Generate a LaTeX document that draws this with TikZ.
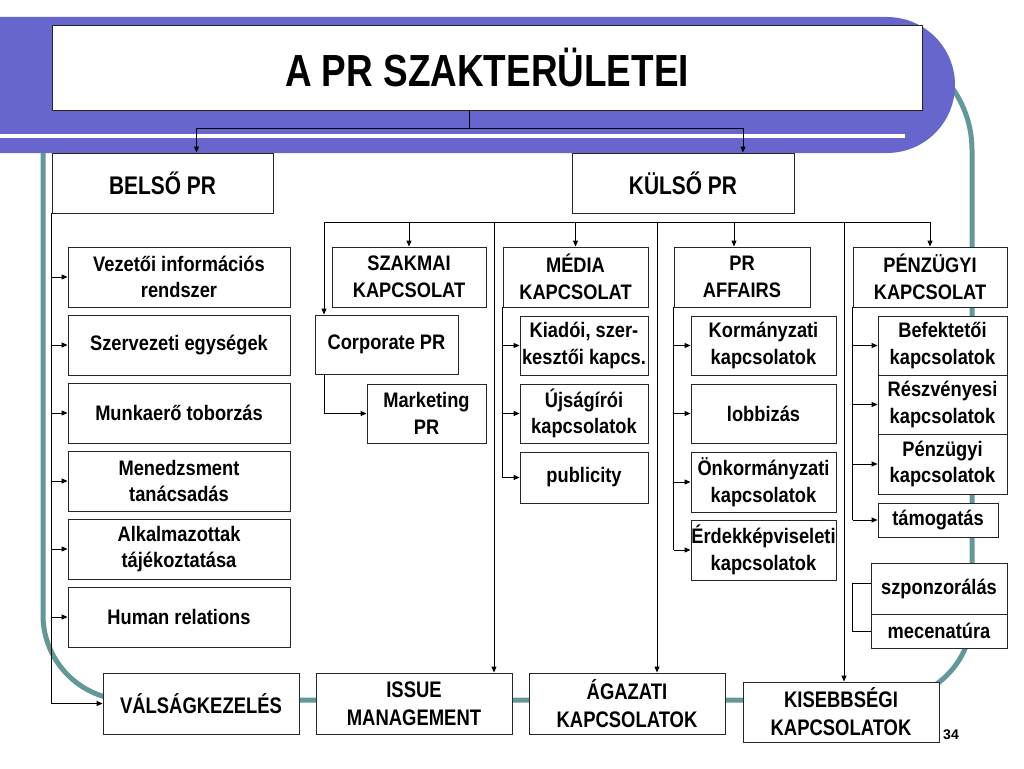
\documentclass[tikz,border=0pt]{standalone}
\usepackage{fontspec}
\setmainfont{Liberation Sans}
\newfontfamily\boxfont[FakeStretch=0.87]{Liberation Sans}
\newfontfamily\narrowfont[FakeStretch=0.82]{Liberation Sans}
\usetikzlibrary{arrows.meta}
\definecolor{bannerblue}{RGB}{102,102,204}
\definecolor{ringteal}{RGB}{98,152,152}

\begin{document}
\begin{tikzpicture}[x=1pt, y=-1pt, line width=0.9pt,
    box/.style={draw=black!85, line width=0.9pt, fill=white, inner sep=0pt, align=center,
      font=\boxfont\bfseries\fontsize{21}{26.5}\selectfont},
    headbox/.style={box, font=\narrowfont\bfseries\fontsize{25.5}{30}\selectfont},
    bigbox/.style={box, font=\narrowfont\bfseries\fontsize{22.5}{28}\selectfont},
    sz/.style 2 args={minimum width=#1, minimum height=#2},
    arr/.style={-{Triangle[length=6pt,width=5pt]}}]
    \useasboundingbox (0,0) rectangle (1024,768);

    % Teal ring behind everything
    \draw[ringteal, line width=5pt, rounded corners=85] (43,43) -- (43,700) -- (972,700) -- (972,300)
        [rounded corners=107] -- (972,43) -- (400,43);

    % Blue banner with white stripe
    \fill[bannerblue, rounded corners=68] (-100,17) rectangle (955,153);
    \fill[white] (0,134) rectangle (905,138);

    % Title and the two main branches
    \node[box, sz={870}{85}, font=\narrowfont\bfseries\fontsize{45}{50}\selectfont] (title) at (487,67.5) {A PR SZAKTERÜLETEI};
    \node[headbox, sz={221}{60}] (belso) at (162.5,183) {BELSŐ PR};
    \node[headbox, sz={222}{60}] (kulso) at (683,183) {KÜLSŐ PR};

    \draw ([xshift=-18pt]title.south) -- ++(0,18) coordinate (tj);
    \coordinate (belsoin) at ([xshift=34pt]belso.north);
    \coordinate (kulsoin) at ([xshift=60pt]kulso.north);
    \draw[arr] (tj) -| (belsoin);
    \draw[arr] (tj) -| (kulsoin);

    % Internal PR
    \foreach \i/\txt in {1/{Vezetői információs\\rendszer}, 2/{Szervezeti egységek}, 3/{Munkaerő toborzás},
        4/{Menedzsment\\tanácsadás}, 5/{Alkalmazottak\\tájékoztatása}, 6/{Human relations}}
        \node[box, sz={222}{60}] (v\i) at (179,{209+68*\i}) {\txt};
    \foreach \i in {1,...,6}
        \draw[arr] (belso.south west |- v\i.west) -- (v\i.west);

    % Bottom row
    \node[bigbox, sz={196}{61}] (valsag) at (201,703.5) {VÁLSÁGKEZELÉS};
    \node[bigbox, sz={196}{61}] (issue) at (414,703.5) {ISSUE\\MANAGEMENT};
    \node[bigbox, sz={196}{61}] (agazati) at (627,703.5) {ÁGAZATI\\KAPCSOLATOK};
    \node[bigbox, sz={196}{60}] (kisebb) at (841,712) {KISEBBSÉGI\\KAPCSOLATOK};
    \node[font=\bfseries\fontsize{14}{14}\selectfont] (page) at (951,735) {34};

    \draw[arr] (belso.south west) |- (valsag.west);

    % External PR groups
    \node[box, sz={154}{60}] (szakmai) at (409,277) {SZAKMAI\\KAPCSOLAT};
    \node[box, sz={145}{60}] (media) at (575.5,277) {MÉDIA\\KAPCSOLAT};
    \node[box, sz={136}{60}] (affairs) at (742,277) {PR\\AFFAIRS};
    \node[box, sz={154}{60}] (penz) at (930,277) {PÉNZÜGYI\\KAPCSOLAT};

    \node[box, sz={143}{59}] (corporate) at (386.5,344.5) {Corporate PR};
    \node[box, sz={119}{59}] (marketing) at (426.5,413.5) {Marketing\\PR};

    \node[box, sz={128}{59}] (kiadoi) at (584,345.5) {Kiadói, szer-\\kesztői kapcs.};
    \node[box, sz={128}{59}] (ujsag) at (584,413.5) {Újságírói\\kapcsolatok};
    \node[box, sz={128}{51}] (publicity) at (584,477.5) {publicity};

    \node[box, sz={145}{59}] (korm) at (763.5,345.5) {Kormányzati\\kapcsolatok};
    \node[box, sz={145}{59}] (lobbi) at (763.5,413.5) {lobbizás};
    \node[box, sz={145}{60}] (onkorm) at (763.5,482) {Önkormányzati\\kapcsolatok};
    \node[box, sz={145}{60}] (erdek) at (763.5,550) {Érdekképviseleti\\kapcsolatok};

    \node[box, sz={129}{59}] (befekt) at (942.5,345.5) {Befektetői\\kapcsolatok};
    \node[box, sz={129}{59}] (reszv) at (942.5,404.5) {Részvényesi\\kapcsolatok};
    \node[box, sz={129}{60}] (penzk) at (942.5,464) {Pénzügyi\\kapcsolatok};
    \node[box, sz={120}{34}] (tamog) at (938,520) {támogatás};
    \node[box, sz={136}{51}] (szponz) at (939,588.5) {szponzorálás};
    \node[box, sz={136}{34}] (mecen) at (939,631) {mecenatúra};

    % Distribution line under KÜLSŐ PR
    \coordinate (busw) at (324,222);
    \coordinate (buse) at (930,222);
    \coordinate (issuein) at ([xshift=80pt]issue.north);
    \coordinate (agazatiin) at ([xshift=30pt]agazati.north);
    \coordinate (affairsin) at ([xshift=-8pt]affairs.north);
    \coordinate (kisebbin) at ([xshift=3pt]kisebb.north);
    \draw (busw) -- (buse);
    \draw[arr] (busw) -- (busw |- corporate.north);
    \draw[arr] (szakmai.north |- busw) -- (szakmai.north);
    \draw[arr] (issuein |- busw) -- (issuein);
    \draw[arr] (media.north |- busw) -- (media.north);
    \draw[arr] (agazatiin |- busw) -- (agazatiin);
    \draw[arr] (affairsin |- busw) -- (affairsin);
    \draw[arr] (kisebbin |- busw) -- (kisebbin);
    \draw[arr] (buse) -- (penz.north);

    % Sub-branches
    \draw[arr] (busw |- corporate.south) |- (marketing.west);
    \draw (media.south west) -- (media.south west |- publicity.west);
    \foreach \n in {kiadoi, ujsag, publicity}
        \draw[arr] (media.south west |- \n.west) -- (\n.west);
    \draw (affairs.south west) -- (affairs.south west |- erdek.west);
    \foreach \n in {korm, lobbi, onkorm, erdek}
        \draw[arr] (affairs.south west |- \n.west) -- (\n.west);
    \draw (penz.south west) -- (penz.south west |- tamog.west);
    \foreach \n in {befekt, reszv, penzk, tamog}
        \draw[arr] (penz.south west |- \n.west) -- (\n.west);
    \draw (szponz.west) ++(0,-5) -- ++(-18,0) |- (mecen.west);
\end{tikzpicture}
\end{document}
